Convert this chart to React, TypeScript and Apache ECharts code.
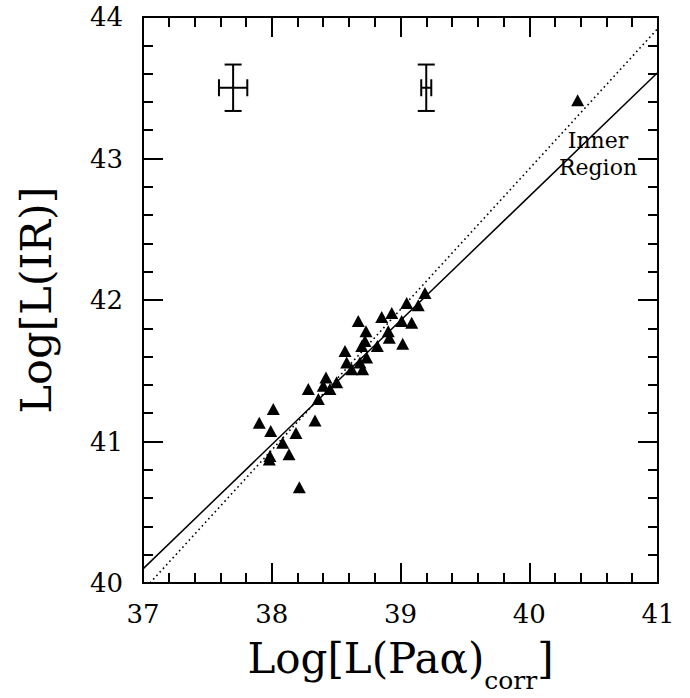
import React, { useEffect, useRef } from "react";
import * as echarts from "echarts";

// Triangles: [Log L(Pa alpha)corr, Log L(IR)]
const points: number[][] = [
  [39.19, 42.049], [39.048, 41.979], [39.138, 41.963], [38.854, 41.879],
  [38.932, 41.909], [39.009, 41.851], [39.087, 41.839], [38.672, 41.851],
  [38.732, 41.78], [38.905, 41.78], [38.913, 41.733], [38.724, 41.71],
  [38.699, 41.675], [38.82, 41.675], [39.017, 41.691], [38.569, 41.64],
  [38.737, 41.593], [38.582, 41.558], [38.685, 41.558], [38.621, 41.511],
  [38.706, 41.511], [38.421, 41.453], [38.504, 41.418], [38.4, 41.394],
  [38.452, 41.371], [38.284, 41.371], [38.362, 41.3], [38.012, 41.23],
  [38.336, 41.149], [37.903, 41.132], [37.992, 41.074], [38.188, 41.06],
  [38.085, 40.992], [38.134, 40.91], [37.986, 40.898], [37.981, 40.872],
  [38.214, 40.676], [40.376, 43.411],
];

// Representative error bars: [x, y, xerr, yerr]
const errorBars: number[][] = [
  [37.7, 43.5, 0.11, 0.164],
  [39.2, 43.5, 0.039, 0.164],
];

// Fit line (solid) and one-to-one style line (dotted)
const solidLine: number[][] = [[37, 40.1], [41, 43.61]];
const dottedLine: number[][] = [[37.054, 40], [41, 43.92]];

const xTicks = { min: 37, max: 41, interval: 1 };
const yTicks = { min: 40, max: 44, interval: 1 };

const FONT = "DejaVu Serif";

export default function App() {
  const ref = useRef<HTMLDivElement>(null);
  useEffect(() => {
    if (!ref.current) return;
    const chart = echarts.init(ref.current, undefined, { renderer: "svg" });
    const axisCommon = {
      type: "value",
      axisLine: { show: true, onZero: false, lineStyle: { color: "#000", width: 2 } },
      axisTick: { show: true, inside: true, length: 20, lineStyle: { color: "#000", width: 2 } },
      minorTick: { show: true, splitNumber: 5, length: 10, lineStyle: { color: "#000", width: 2 } },
      splitLine: { show: false },
      minorSplitLine: { show: false },
    };
    const option: any = {
      animation: false,
      backgroundColor: "#fff",
      grid: { left: 143, right: 32, top: 17, bottom: 111, containLabel: false },
      xAxis: [
        {
          ...axisCommon,
          ...xTicks,
          position: "bottom",
          axisLabel: { show: true, fontFamily: FONT, fontSize: 26, color: "#000", margin: 18 },
          name: "{a|Log[L(Paα)}{b|corr}{a|]}",
          nameLocation: "middle",
          nameGap: 54,
          nameTextStyle: {
            color: "#000",
            rich: {
              a: { fontFamily: FONT, fontSize: 42, color: "#000" },
              b: { fontFamily: FONT, fontSize: 25, color: "#000", verticalAlign: "bottom", padding: [0, 0, -14, 0] },
            },
          },
        },
        {
          ...axisCommon,
          ...xTicks,
          position: "top",
          axisLabel: { show: false },
        },
      ],
      yAxis: [
        {
          ...axisCommon,
          ...yTicks,
          position: "left",
          axisLabel: { show: true, fontFamily: FONT, fontSize: 26, color: "#000", margin: 20 },
          name: "Log[L(IR)]",
          nameLocation: "middle",
          nameRotate: 90,
          nameGap: 86,
          nameTextStyle: { fontFamily: FONT, fontSize: 43, color: "#000" },
        },
        {
          ...axisCommon,
          ...yTicks,
          position: "right",
          axisLabel: { show: false },
        },
      ],
      graphic: [
        {
          type: "text",
          x: 598,
          y: 154,
          style: {
            text: "Inner\nRegion",
            font: `22px "${FONT}"`,
            fill: "#000",
            align: "center",
            verticalAlign: "middle",
            lineHeight: 27,
          },
        },
      ],
      series: [
        {
          type: "line",
          data: solidLine,
          showSymbol: false,
          symbol: "none",
          lineStyle: { color: "#000", width: 1.5, type: "solid" },
          z: 2,
        },
        {
          type: "line",
          data: dottedLine,
          showSymbol: false,
          symbol: "none",
          lineStyle: { color: "#000", width: 1.6, type: [1.6, 3.2] },
          z: 2,
        },
        {
          type: "scatter",
          data: points,
          symbol: "triangle",
          symbolSize: [13, 12],
          itemStyle: { color: "#000", opacity: 1 },
          z: 3,
        },
        {
          type: "custom",
          data: errorBars,
          z: 4,
          renderItem: (_params: any, api: any) => {
            const x = api.value(0);
            const y = api.value(1);
            const ex = api.value(2);
            const ey = api.value(3);
            const c = api.coord([x, y]);
            const l = api.coord([x - ex, y]);
            const r = api.coord([x + ex, y]);
            const t = api.coord([x, y + ey]);
            const b = api.coord([x, y - ey]);
            const cap = 8.5;
            const style = { stroke: "#000", lineWidth: 2, fill: "none" };
            const ln = (x1: number, y1: number, x2: number, y2: number) => ({
              type: "line",
              shape: { x1, y1, x2, y2 },
              style,
            });
            return {
              type: "group",
              children: [
                ln(l[0], c[1], r[0], c[1]),
                ln(c[0], t[1], c[0], b[1]),
                ln(c[0] - cap, t[1], c[0] + cap, t[1]),
                ln(c[0] - cap, b[1], c[0] + cap, b[1]),
                ln(l[0], c[1] - cap, l[0], c[1] + cap),
                ln(r[0], c[1] - cap, r[0], c[1] + cap),
              ],
            };
          },
        },
      ],
    };
    chart.setOption(option);
    return () => chart.dispose();
  }, []);
  return (
    <div
      ref={ref}
      style={{ position: "absolute", left: 0, top: 0, width: 690, height: 698, background: "#fff" }}
    />
  );
}
